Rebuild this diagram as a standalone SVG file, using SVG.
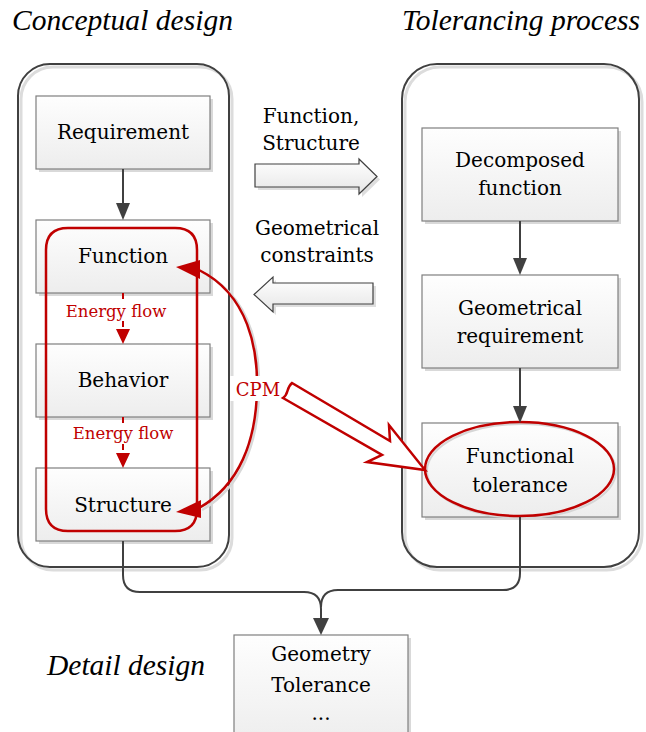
<svg xmlns="http://www.w3.org/2000/svg" width="646" height="732" viewBox="0 0 646 732">
<defs>
<linearGradient id="boxg" x1="0" y1="0" x2="0" y2="1">
<stop offset="0" stop-color="#fefefe"/>
<stop offset="1" stop-color="#ededed"/>
</linearGradient>
<linearGradient id="arrg" x1="0" y1="0" x2="0" y2="1">
<stop offset="0" stop-color="#ffffff"/>
<stop offset="1" stop-color="#e6e6e6"/>
</linearGradient>
<style>
.cont{fill:none;stroke:#404040;stroke-width:2}
.contsh{fill:none;stroke:#dcdcdc;stroke-width:3}
.box{fill:url(#boxg);stroke:#7f7f7f;stroke-width:1.2}
.sh{fill:#d9d9d9}
.t{font-family:"DejaVu Serif","Liberation Serif",serif;font-size:20px;fill:#000;text-anchor:middle}
.title{font-family:"Liberation Serif",serif;font-style:italic;font-size:29.5px;fill:#000}
.red{fill:none;stroke:#c00000;stroke-width:2.5}
.redt{font-family:"DejaVu Serif","Liberation Serif",serif;fill:#c00000;text-anchor:middle}
.con{fill:none;stroke:#404040;stroke-width:2}
.ah{fill:#404040}
.rah{fill:#c00000}
.harr{fill:url(#arrg);stroke:#404040;stroke-width:1.2}
</style>
</defs>
<rect width="646" height="732" fill="#ffffff"/>

<g id="titles">
<text class="title" x="12" y="30" textLength="221">Conceptual design</text>
<text class="title" x="402" y="30" textLength="238">Tolerancing process</text>
<text class="title" x="47" y="675" textLength="158">Detail design</text>
</g>

<g id="conceptual-design">
<rect class="contsh" x="21" y="67" width="211" height="503" rx="32"/>
<rect class="cont" x="18" y="64" width="211" height="503" rx="32"/>
</g>
<g id="tolerancing-process">
<rect class="contsh" x="405" y="67" width="237" height="503" rx="35"/>
<rect class="cont" x="402" y="64" width="237" height="503" rx="35"/>
</g>

<g id="requirement">
<rect class="sh" x="39" y="99" width="174" height="73"/>
<rect class="box" x="36" y="96" width="174" height="73"/>
<text class="t" x="123" y="139">Requirement</text>
</g>
<g id="function">
<rect class="sh" x="39" y="223" width="174" height="73"/>
<rect class="box" x="36" y="220" width="174" height="73"/>
<text class="t" x="123" y="263">Function</text>
</g>
<g id="behavior">
<rect class="sh" x="39" y="347" width="174" height="73"/>
<rect class="box" x="36" y="344" width="174" height="73"/>
<text class="t" x="123" y="387">Behavior</text>
</g>
<g id="structure">
<rect class="sh" x="39" y="471" width="174" height="73"/>
<rect class="box" x="36" y="468" width="174" height="73"/>
<text class="t" x="123" y="512">Structure</text>
</g>

<g id="decomposed-function">
<rect class="sh" x="425" y="131" width="196" height="93"/>
<rect class="box" x="422" y="128" width="196" height="93"/>
<text class="t" x="520" y="167">Decomposed</text>
<text class="t" x="520" y="195">function</text>
</g>
<g id="geometrical-requirement">
<rect class="sh" x="425" y="278" width="196" height="93"/>
<rect class="box" x="422" y="275" width="196" height="93"/>
<text class="t" x="520" y="315">Geometrical</text>
<text class="t" x="520" y="343">requirement</text>
</g>
<g id="functional-tolerance">
<rect class="sh" x="425" y="426" width="196" height="94"/>
<rect class="box" x="422" y="423" width="196" height="94"/>
<ellipse cx="521.5" cy="471" rx="94.5" ry="47" fill="none" stroke="#d6d6d6" stroke-width="2"/>
<ellipse class="red" cx="519.5" cy="469" rx="94.5" ry="47"/>
<text class="t" x="520" y="463">Functional</text>
<text class="t" x="520" y="492">tolerance</text>
</g>

<g id="detail-design">
<rect class="sh" x="237" y="638" width="174" height="110"/>
<rect class="box" x="234" y="635" width="174" height="110"/>
<text class="t" x="321" y="661">Geometry</text>
<text class="t" x="321" y="692">Tolerance</text>
<text class="t" x="321" y="720">...</text>
</g>

<g id="exchange-arrows">
<polygon points="258,167 362,167 362,162 380,179.5 362,197 362,190 258,190" fill="#dedede"/>
<polygon class="harr" points="255,164 359,164 359,159 377,176.5 359,194 359,187 255,187"/>
<text class="t" x="311" y="123">Function,</text>
<text class="t" x="311" y="150">Structure</text>
<polygon points="376,286 276,286 276,280 257,297.5 276,315 276,307 376,307" fill="#dedede"/>
<polygon class="harr" points="373,283 273,283 273,277 254,294.5 273,312 273,304 373,304"/>
<text class="t" x="317" y="235">Geometrical</text>
<text class="t" x="317" y="262">constraints</text>
</g>

<g id="connectors">
<line class="con" x1="123" y1="169" x2="123" y2="205"/>
<polygon class="ah" points="116,203 130,203 123,220"/>
<line class="con" x1="520" y1="221" x2="520" y2="260"/>
<polygon class="ah" points="513,258 527,258 520,275"/>
<line class="con" x1="520" y1="368" x2="520" y2="408"/>
<polygon class="ah" points="513,406 527,406 520,423"/>
<path class="con" d="M123,541 L123,575 Q123,592 140,592 L304,592 Q321,592 321,609 L321,622"/>
<path class="con" d="M520,517 L520,573 Q520,590 503,590 L338,590 Q321,590 321,607"/>
<polygon class="ah" points="313,618 329,618 321,635"/>
</g>

<g id="energy-flow">
<path class="red" d="M46,250 Q46,228 68,228 L175,228 Q197,228 197,250 L197,509 Q197,531 175,531 L68,531 Q46,531 46,509 Z"/>
<line stroke="#c00000" stroke-width="2" stroke-dasharray="6,4" x1="123" y1="293" x2="123" y2="301"/>
<line stroke="#c00000" stroke-width="2" stroke-dasharray="6,4" x1="123" y1="321" x2="123" y2="331"/>
<polygon class="rah" points="116,329 130,329 123,344"/>
<text class="redt" x="116" y="317" font-size="16.5">Energy flow</text>
<line stroke="#c00000" stroke-width="2" stroke-dasharray="6,4" x1="123" y1="417" x2="123" y2="424"/>
<line stroke="#c00000" stroke-width="2" stroke-dasharray="6,4" x1="123" y1="444" x2="123" y2="454"/>
<polygon class="rah" points="116,453 130,453 123,468"/>
<text class="redt" x="123" y="439" font-size="16.5">Energy flow</text>
</g>

<g id="cpm">
<path fill="none" stroke="#d8d8d8" stroke-width="2.5" d="M202,272 C252,297 260,350 259,392 C258,442 242,487 202,510"/>
<path class="red" d="M199,270 C249,295 258,350 257,390 C256,440 240,485 199,508"/>
<polygon class="rah" points="176,267 200,260 200,279"/>
<polygon class="rah" points="176,512 201,500 201,518"/>
<rect x="230" y="376" width="54" height="25" fill="#ffffff"/>
<text class="redt" x="258" y="396" font-size="18">CPM</text>
<path fill="#ffffff" stroke="#c00000" stroke-width="2.5" stroke-linejoin="miter" d="M292,383 L390,441 L389,425 L425,470 L367,462 L382,455 L283,398 C289,394 286,388 292,383 Z"/>
</g>
</svg>
